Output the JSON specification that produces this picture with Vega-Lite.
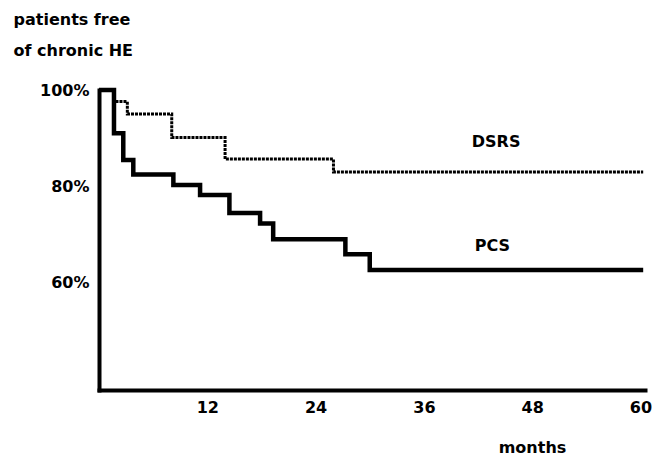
{
  "$schema": "https://vega.github.io/schema/vega-lite/v6.json",
  "width": 546,
  "height": 300,
  "autosize": {"type": "none"},
  "padding": {"left": 99, "top": 90, "right": 15, "bottom": 66},
  "background": "white",
  "config": {
    "view": {"stroke": null},
    "font": "DejaVu Sans"
  },
  "datasets": {
    "curves": [
      {"group": "DSRS", "month": 0, "pct": 100},
      {"group": "DSRS", "month": 1.66, "pct": 97.6},
      {"group": "DSRS", "month": 3.14, "pct": 95.0},
      {"group": "DSRS", "month": 8.06, "pct": 90.1},
      {"group": "DSRS", "month": 13.97, "pct": 85.6},
      {"group": "DSRS", "month": 25.98, "pct": 82.9},
      {"group": "DSRS", "month": 60.3, "pct": 82.9},
      {"group": "PCS", "month": 0, "pct": 100},
      {"group": "PCS", "month": 1.66, "pct": 91.0},
      {"group": "PCS", "month": 2.69, "pct": 85.4},
      {"group": "PCS", "month": 3.8, "pct": 82.4},
      {"group": "PCS", "month": 8.24, "pct": 80.2},
      {"group": "PCS", "month": 11.2, "pct": 78.1},
      {"group": "PCS", "month": 14.45, "pct": 74.4},
      {"group": "PCS", "month": 17.85, "pct": 72.2},
      {"group": "PCS", "month": 19.3, "pct": 68.9},
      {"group": "PCS", "month": 27.3, "pct": 65.8},
      {"group": "PCS", "month": 30.0, "pct": 62.5},
      {"group": "PCS", "month": 60.3, "pct": 62.5}
    ],
    "labels": [
      {"label": "DSRS", "month": 44.0, "pct": 89.2},
      {"label": "PCS", "month": 43.6, "pct": 67.6}
    ]
  },
  "encoding": {
    "x": {
      "field": "month",
      "type": "quantitative",
      "scale": {"domain": [0, 60.5], "nice": false, "zero": false},
      "axis": {
        "values": [12, 24, 36, 48, 60],
        "grid": false,
        "ticks": false,
        "tickSize": 0,
        "domainColor": "black",
        "domainWidth": 4,
        "domainCap": "square",
        "labelPadding": 9,
        "labelDx": -8,
        "labelFont": "DejaVu Sans",
        "labelFontSize": 16,
        "labelFontWeight": "bold",
        "labelColor": "black",
        "title": "months",
        "titleFont": "DejaVu Sans",
        "titleFontSize": 16,
        "titleFontWeight": "bold",
        "titleColor": "black",
        "titleX": 433,
        "titleY": 62,
        "titleAlign": "center",
        "titleBaseline": "alphabetic"
      }
    },
    "y": {
      "field": "pct",
      "type": "quantitative",
      "scale": {"domain": [37.5, 100], "nice": false, "zero": false},
      "axis": {
        "values": [60, 80, 100],
        "labelExpr": "datum.value + '%'",
        "grid": false,
        "ticks": false,
        "tickSize": 0,
        "domainColor": "black",
        "domainWidth": 4,
        "domainCap": "square",
        "labelPadding": 10,
        "labelDy": -2,
        "labelFont": "DejaVu Sans",
        "labelFontSize": 16,
        "labelFontWeight": "bold",
        "labelColor": "black",
        "title": ["patients free", "of chronic HE"],
        "titleAngle": 0,
        "titleFont": "DejaVu Sans",
        "titleFontSize": 16,
        "titleFontWeight": "bold",
        "titleColor": "black",
        "titleX": -86,
        "titleY": -66,
        "titleAlign": "left",
        "titleBaseline": "alphabetic",
        "titleLineHeight": 31
      }
    }
  },
  "layer": [
    {
      "data": {"name": "curves"},
      "transform": [{"filter": "datum.group === 'DSRS'"}],
      "mark": {"type": "line", "interpolate": "step-after", "color": "black", "strokeWidth": 3, "strokeDash": [3, 1]}
    },
    {
      "data": {"name": "curves"},
      "transform": [{"filter": "datum.group === 'PCS'"}],
      "mark": {"type": "line", "interpolate": "step-after", "color": "black", "strokeWidth": 4.5, "strokeJoin": "miter"}
    },
    {
      "data": {"name": "labels"},
      "mark": {"type": "text", "font": "DejaVu Sans", "fontSize": 16, "fontWeight": "bold", "color": "black", "align": "center", "baseline": "middle"},
      "encoding": {"text": {"field": "label"}}
    }
  ]
}
